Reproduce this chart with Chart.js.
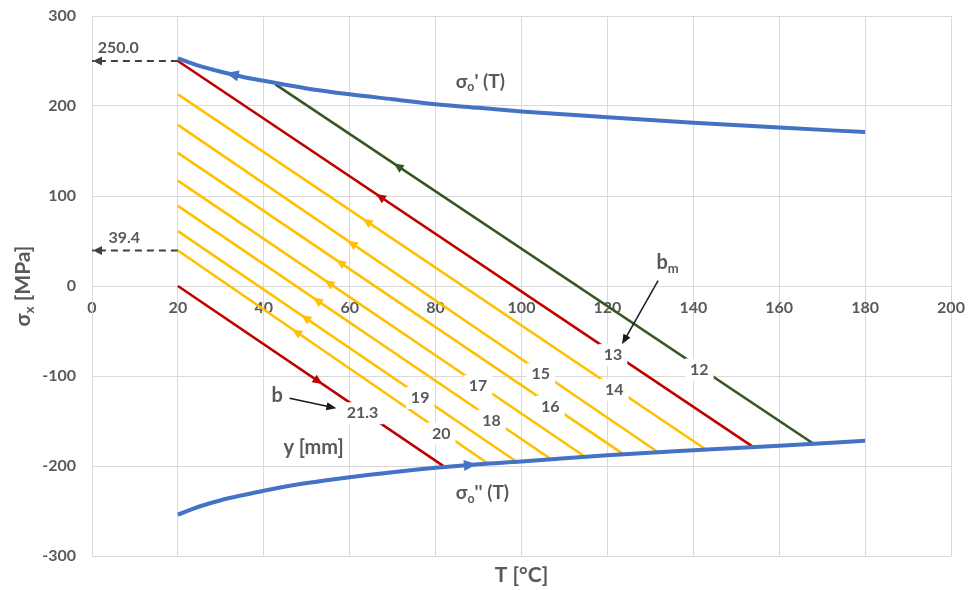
<!DOCTYPE html>
<html lang="en">
<head>
<meta charset="UTF-8">
<title>σx – T</title>
<script src="https://cdn.jsdelivr.net/npm/chart.js"></script>
<style>
  html, body { margin: 0; padding: 0; background: #fff; }
  #wrap { width: 978px; height: 590px; }
</style>
</head>
<body>
<div id="wrap"><canvas id="chart"></canvas></div>
<script>
// limit curves sigma_o'(T) and sigma_o''(T)
const tUpper = [20, 25, 30, 35, 40, 50, 60, 70, 80, 90, 100, 120, 140, 160, 180];
const sUpper = [253, 244.5, 238, 232.5, 228, 219.5, 213, 207.5, 202, 198, 194, 187.5, 181.5, 176, 171];
const tLower = [20, 25, 30, 35, 40, 50, 60, 70, 80, 90, 100, 120, 140, 160, 180];
const sLower = [-254, -245, -238, -232.5, -227.5, -219, -212.5, -207, -202, -198, -195, -188, -182.5, -177.5, -172];

// stress paths for each depth y [mm]
const depthLabels = ['12', '13', '14', '15', '16', '17', '18', '19', '20', '21.3'];
const lineStartT = [42.7, 20, 20, 20, 20, 20, 20, 20, 20, 20];
const lineStartS = [224, 250, 213, 179, 148, 117, 89, 61, 39.4, 0];
const lineEndT = [167.9, 154, 143.2, 131.9, 123.8, 114.9, 106.9, 98.8, 92.1, 82.1];
const lineEndS = [-175, -179, -182.5, -185, -187, -190, -192.5, -195, -197, -201];
const labelT = [141.4, 121.3, 121.6, 104.5, 106.7, 89.9, 93.0, 76.4, 81.3, 63.0];
const arrowT = [71.2, 67.1, 64.0, 60.5, 57.8, 55.1, 52.4, 49.7, 47.6, 52.7];

const markS = [250, 39.4];
const markText = ['250.0', '39.4'];

const BLUE = '#4472C4', RED = '#C00000', YELLOW = '#FFC000', GREEN = '#375623';
const TEXT = '#595959';
const FONT = 'Lato, "Noto Sans", sans-serif';
const lineColors = [GREEN, RED, YELLOW, YELLOW, YELLOW, YELLOW, YELLOW, YELLOW, YELLOW, RED];

function font(size) { return 'bold ' + size + 'px ' + FONT; }

function lineS(i, t) {
  return lineStartS[i] + (lineEndS[i] - lineStartS[i]) * (t - lineStartT[i]) / (lineEndT[i] - lineStartT[i]);
}
function curveS(ts, ss, t) {
  for (let k = 0; k < ts.length - 1; k++) {
    if (t >= ts[k] && t <= ts[k + 1]) return ss[k] + (ss[k + 1] - ss[k]) * (t - ts[k]) / (ts[k + 1] - ts[k]);
  }
  return ss[ss.length - 1];
}

function head(ctx, tx, ty, dx, dy, len, hw, color) {
  const d = Math.hypot(dx, dy); dx /= d; dy /= d;
  const bx = tx - dx * len, by = ty - dy * len;
  ctx.beginPath();
  ctx.moveTo(tx, ty);
  ctx.lineTo(bx - dy * hw, by + dx * hw);
  ctx.lineTo(bx + dy * hw, by - dx * hw);
  ctx.closePath();
  ctx.fillStyle = color;
  ctx.fill();
}
// arrow head centred on a point, pointing along (dx, dy)
function midHead(ctx, px, py, dx, dy, len, hw, color) {
  const d = Math.hypot(dx, dy);
  head(ctx, px + dx / d * len / 2, py + dy / d * len / 2, dx, dy, len, hw, color);
}

function richText(ctx, parts, cx, cy, size, color) {
  ctx.save();
  ctx.fillStyle = color;
  ctx.textBaseline = 'middle';
  ctx.textAlign = 'left';
  let w = 0;
  parts.forEach(p => { ctx.font = font(p.sub ? size * 0.65 : size); w += ctx.measureText(p.t).width; });
  let x = cx - w / 2;
  parts.forEach(p => {
    ctx.font = font(p.sub ? size * 0.65 : size);
    ctx.fillText(p.t, x, cy + (p.sub ? size * 0.3 : 0));
    x += ctx.measureText(p.t).width;
  });
  ctx.restore();
}

const datasets = [
  { data: tUpper.map((t, i) => ({ x: t, y: sUpper[i] })), borderColor: BLUE, borderWidth: 4, cubicInterpolationMode: 'monotone' },
  { data: tLower.map((t, i) => ({ x: t, y: sLower[i] })), borderColor: BLUE, borderWidth: 4, cubicInterpolationMode: 'monotone' }
];
depthLabels.forEach((lab, i) => {
  datasets.push({
    data: [{ x: lineStartT[i], y: lineStartS[i] }, { x: lineEndT[i], y: lineEndS[i] }],
    borderColor: lineColors[i], borderWidth: 2.6
  });
});
markS.forEach(s => {
  datasets.push({
    data: [{ x: 20, y: s }, { x: 0, y: s }],
    borderColor: '#404040', borderWidth: 2, borderDash: [7, 5]
  });
});
datasets.forEach(d => { d.showLine = true; d.pointRadius = 0; d.fill = false; });

const annotate = {
  id: 'annotate',
  afterDatasetsDraw(chart) {
    const ctx = chart.ctx, xs = chart.scales.x, ys = chart.scales.y;
    const X = v => xs.getPixelForValue(v), Y = v => ys.getPixelForValue(v);
    ctx.save();

    // direction arrows on the stress paths
    depthLabels.forEach((lab, i) => {
      const t = arrowT[i];
      let dx = X(lineStartT[i]) - X(lineEndT[i]), dy = Y(lineStartS[i]) - Y(lineEndS[i]);
      if (i === depthLabels.length - 1) { dx = -dx; dy = -dy; }
      midHead(ctx, X(t), Y(lineS(i, t)), dx, dy, 10, 4.5, lineColors[i]);
    });
    // arrows on the limit curves
    let t = 32.6;
    midHead(ctx, X(t), Y(curveS(tUpper, sUpper, t)),
      X(t - 1) - X(t + 1), Y(curveS(tUpper, sUpper, t - 1)) - Y(curveS(tUpper, sUpper, t + 1)), 13, 5.5, BLUE);
    t = 88.1;
    midHead(ctx, X(t), Y(curveS(tLower, sLower, t)),
      X(t + 1) - X(t - 1), Y(curveS(tLower, sLower, t + 1)) - Y(curveS(tLower, sLower, t - 1)), 13, 5.5, BLUE);
    // dashed read-off arrows
    markS.forEach((s, i) => {
      head(ctx, X(0) + 1, Y(s), -1, 0, 9, 4.5, '#404040');
      richText(ctx, [{ t: markText[i] }], X(i === 0 ? 6.1 : 7.5), Y(s) - 13, 16, TEXT);
    });

    // depth labels with white boxes
    ctx.font = font(16);
    depthLabels.forEach((lab, i) => {
      const px = X(labelT[i]), py = Y(lineS(i, labelT[i])) + 2;
      const w = ctx.measureText(lab).width + 10;
      ctx.fillStyle = '#fff';
      ctx.fillRect(px - w / 2, py - 11, w, 22);
      richText(ctx, [{ t: lab }], px, py, 16, TEXT);
    });

    // curve names and other notes
    richText(ctx, [{ t: 'σ' }, { t: 'o', sub: true }, { t: "' (T)" }], X(90.4), Y(227), 19, TEXT);
    richText(ctx, [{ t: 'σ' }, { t: 'o', sub: true }, { t: "'' (T)" }], X(90.9), Y(-230.3), 19, TEXT);
    richText(ctx, [{ t: 'y [mm]' }], X(51.6), Y(-179), 20, TEXT);
    richText(ctx, [{ t: 'b' }], X(43.1), Y(-122), 20, TEXT);
    richText(ctx, [{ t: 'b' }, { t: 'm', sub: true }], X(134.0), Y(25.6), 20, TEXT);

    // pointer arrows for b and b_m
    const pointers = [[46.0, -124.8, 56.9, -135.9], [131.8, 5.9, 123.4, -64.8]];
    pointers.forEach(p => {
      const x1 = X(p[0]), y1 = Y(p[1]), x2 = X(p[2]), y2 = Y(p[3]);
      const d = Math.hypot(x2 - x1, y2 - y1);
      ctx.beginPath();
      ctx.moveTo(x1, y1);
      ctx.lineTo(x2 - (x2 - x1) / d * 6, y2 - (y2 - y1) / d * 6);
      ctx.strokeStyle = '#1a1a1a';
      ctx.lineWidth = 1.5;
      ctx.stroke();
      head(ctx, x2, y2, x2 - x1, y2 - y1, 10, 4, '#1a1a1a');
    });

    // axis titles
    const area = chart.chartArea;
    richText(ctx, [{ t: 'T [°C]' }], (area.left + area.right) / 2, area.bottom + 19, 21, TEXT);
    ctx.translate(23, (area.top + area.bottom) / 2);
    ctx.rotate(-Math.PI / 2);
    richText(ctx, [{ t: 'σ' }, { t: 'x', sub: true }, { t: ' [MPa]' }], 0, 0, 21, TEXT);
    ctx.restore();
  }
};

new Chart(document.getElementById('chart'), {
  type: 'scatter',
  data: { datasets: datasets },
  options: {
    responsive: true,
    maintainAspectRatio: false,
    animation: false,
    layout: { padding: { left: 0, top: 16, right: 27, bottom: 34 } },
    plugins: { legend: { display: false }, tooltip: { enabled: false } },
    scales: {
      x: {
        type: 'linear', min: 0, max: 200,
        position: { y: 0 },
        ticks: { stepSize: 20, color: TEXT, font: { family: FONT, size: 16, weight: 'bold' }, padding: 12, maxRotation: 0 },
        grid: { color: '#d9d9d9', drawTicks: false },
        border: { color: '#d9d9d9' }
      },
      y: {
        min: -300, max: 300,
        ticks: { stepSize: 100, color: TEXT, font: { family: FONT, size: 16, weight: 'bold' }, padding: 2 },
        grid: { color: '#d9d9d9', drawTicks: true, tickLength: 14, tickColor: 'rgba(0,0,0,0)' },
        border: { color: '#d9d9d9' },
        afterFit: s => { s.width = 92; }
      }
    }
  },
  plugins: [annotate]
});
</script>
</body>
</html>
